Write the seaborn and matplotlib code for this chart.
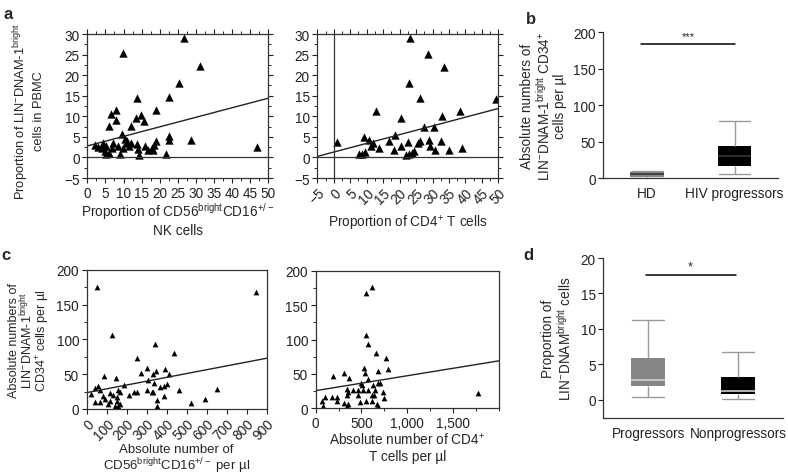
import pandas as pd
import matplotlib
matplotlib.use("Agg")
import matplotlib.pyplot as plt
from matplotlib.ticker import MultipleLocator
import seaborn as sns

sns.set_style("ticks")
plt.rcParams['font.family'] = ['Liberation Sans', 'DejaVu Sans']
plt.rcParams['mathtext.fontset'] = 'custom'
plt.rcParams['mathtext.rm'] = 'Liberation Sans'
plt.rcParams['mathtext.default'] = 'regular'
plt.rcParams['font.size'] = 9.8
plt.rcParams['axes.edgecolor'] = '#333333'
plt.rcParams['axes.linewidth'] = 0.9

# --- panel a, left: % LIN-DNAM-1bright vs % CD56bright NK cells
a1_x = [9.9, 26.6, 31.2, 25.3, 22.5, 13.6, 18.9, 7.9, 6.5, 14.9, 13.4, 15.7, 8.0, 12.1,
        5.9, 9.5, 22.5, 22.6, 28.6, 19.1, 46.8, 2.1, 4.4, 5.3, 4.9, 5.2, 7.2, 6.7, 8.6,
        9.0, 10.4, 10.9, 9.9, 11.5, 13.8, 13.9, 14.2, 15.9, 16.9, 17.8, 18.2, 18.4, 21.7,
        3.0, 6.0, 11.0, 12.0, 4.0]
a1_y = [25.3, 29.0, 22.2, 18.2, 14.6, 14.4, 11.5, 11.5, 10.5, 10.3, 9.6, 8.9, 9.2, 7.7,
        7.6, 5.7, 5.1, 4.2, 4.2, 4.1, 2.6, 3.1, 3.5, 2.8, 1.6, 0.8, 3.6, 2.4, 2.8,
        0.8, 4.5, 3.4, 2.4, 2.8, 3.2, 2.0, 0.6, 2.7, 1.9, 2.4, 1.7, 3.0, 0.8,
        2.5, 1.2, 4.0, 3.5, 2.2]
a1_fit_x = [0, 50]
a1_fit_y = [2.8, 14.4]

# --- panel a, right: % LIN-DNAM-1bright vs % CD4+ T cells
a2_x = [23.2, 28.5, 33.4, 22.9, 26.3, 49.3, 12.7, 38.3, 32.9, 20.4, 27.4, 30.4, 18.7,
        9.3, 1.1, 10.8, 16.8, 22.5, 25.7, 26.2, 28.9, 32.7, 11.3, 11.8, 13.6, 20.3,
        18.4, 29.3, 30.9, 34.9, 38.9, 7.7, 8.5, 9.4, 21.9, 22.9, 23.9, 24.5]
a2_y = [29.0, 25.1, 22.0, 18.1, 14.4, 14.3, 11.3, 11.4, 10.1, 9.5, 7.5, 7.5, 5.4,
        5.0, 3.8, 4.3, 4.1, 3.8, 3.6, 4.0, 4.3, 4.1, 2.8, 3.4, 2.3, 2.7,
        1.9, 2.8, 1.9, 1.9, 2.2, 0.8, 0.8, 1.4, 0.6, 0.8, 1.2, 1.6]
a2_fit_x = [-5, 50]
a2_fit_y = [0.25, 11.9]

# --- panel c, left: absolute numbers vs CD56bright per ul
c1_x = [53, 847, 125, 342, 437, 250, 300, 272, 347, 330, 393, 410, 87, 147, 308, 187,
        337, 385, 402, 368, 58, 42, 67, 158, 167, 238, 250, 303, 325, 333, 210, 20,
        117, 130, 83, 92, 150, 388, 460, 650, 592, 520, 350, 350, 42, 67, 108, 153,
        167, 142, 158, 117]
c1_y = [176, 168, 106, 93, 80, 73, 59, 52, 54, 50, 57, 50, 47, 44, 42, 35,
        37, 33, 36, 32, 33, 30, 27, 28, 24, 24, 24, 28, 24, 24, 20, 21,
        23, 20, 18, 15, 17, 19, 27, 29, 14, 8, 13, 5, 10, 10, 7, 11,
        7, 4, 5, 12]
c1_fit_x = [0, 900]
c1_fit_y = [23.5, 73]

# --- panel c, right: absolute numbers vs CD4+ T cells per ul
c2_x = [611, 546, 546, 568, 655, 768, 786, 684, 531, 539, 193, 313, 364, 575, 684,
        495, 502, 466, 520, 575, 630, 648, 702, 338, 357, 411, 732, 640, 338, 102,
        175, 229, 237, 66, 746, 466, 611, 619, 313, 357, 338, 484, 550, 666, 684,
        84, 1776]
c2_y = [177, 168, 106, 93, 80, 73, 57, 54, 59, 51, 47, 51, 44, 42, 37,
        37, 34, 27, 27, 27, 34, 27, 37, 28, 24, 27, 24, 20, 20, 16,
        16, 17, 10, 11, 15, 20, 19, 11, 7, 6, 4, 9, 10, 6, 4,
        4, 22]
c2_fit_x = [0, 2000]
c2_fit_y = [25.7, 69]

# --- panel b: box summaries (min, q1, median, q3, max)
b_groups = ['HD', 'HIV progressors']
b_hd = [0.5, 1.0, 5.5, 8.5, 9.5]
b_hiv = [5, 17, 30, 44, 78.5]
b_sig_y = 184

# --- panel d: box summaries (min, q1, median, q3, max)
d_groups = ['Progressors', 'Nonprogressors']
d_prog = [0.3, 1.9, 2.8, 5.9, 11.2]
d_nonprog = [0.1, 0.8, 1.2, 3.2, 6.7]
d_sig_y = 17.6

fig = plt.figure(figsize=(7.88, 4.77), dpi=100)
ax_a1 = fig.add_axes([0.1108, 0.6247, 0.2297, 0.3019])
ax_a2 = fig.add_axes([0.4027, 0.6247, 0.2297, 0.3019])
ax_b = fig.add_axes([0.7656, 0.6247, 0.2221, 0.3061])
ax_c1 = fig.add_axes([0.1100, 0.1405, 0.2284, 0.2914])
ax_c2 = fig.add_axes([0.4006, 0.1419, 0.2325, 0.2885])
ax_d = fig.add_axes([0.7656, 0.1216, 0.2284, 0.3354])


def scatter_panel(ax, x, y, fx, fy, size):
    sns.scatterplot(x=x, y=y, marker='^', color='black', s=size, linewidth=0, ax=ax)
    sns.lineplot(x=fx, y=fy, color='#222222', lw=1.0, ax=ax)
    ax.tick_params(which='major', length=3.5, width=0.8, direction='out', pad=2)
    ax.tick_params(which='minor', length=2, width=0.7, direction='out')


# a left
scatter_panel(ax_a1, a1_x, a1_y, a1_fit_x, a1_fit_y, 36)
ax_a1.axhline(0, color='#333333', lw=0.9)
ax_a1.set_xlim(0, 50)
ax_a1.set_ylim(-5, 30)
ax_a1.set_xticks(range(0, 51, 5))
ax_a1.set_yticks(range(-5, 31, 5))
ax_a1.xaxis.set_minor_locator(MultipleLocator(2.5))
ax_a1.yaxis.set_minor_locator(MultipleLocator(2.5))
ax_a1.tick_params(which='both', top=True, right=True)
ax_a1.set_xlabel('Proportion of CD56$^{bright}$CD16$^{+/-}$\nNK cells', linespacing=1.2)
ax_a1.set_ylabel('Proportion of LIN$^{-}$DNAM-1$^{bright}$\ncells in PBMC',
                 linespacing=1.15, fontsize=9.3)
ax_a1.yaxis.set_label_coords(-0.235, 0.47)
ax_a1.xaxis.set_label_coords(0.5, -0.15)

# a right
scatter_panel(ax_a2, a2_x, a2_y, a2_fit_x, a2_fit_y, 36)
ax_a2.axhline(0, color='#333333', lw=0.9)
ax_a2.axvline(0, color='#333333', lw=0.9)
ax_a2.set_xlim(-5, 50)
ax_a2.set_ylim(-5, 30)
ax_a2.set_xticks(range(-5, 51, 5))
ax_a2.set_yticks(range(-5, 31, 5))
ax_a2.xaxis.set_minor_locator(MultipleLocator(2.5))
ax_a2.yaxis.set_minor_locator(MultipleLocator(2.5))
ax_a2.tick_params(which='both', top=True, right=True)
plt.setp(ax_a2.get_xticklabels(), rotation=45, ha='right', rotation_mode='anchor')
ax_a2.set_xlabel('Proportion of CD4$^{+}$ T cells')
ax_a2.xaxis.set_label_coords(0.5, -0.24)

# c left
scatter_panel(ax_c1, c1_x, c1_y, c1_fit_x, c1_fit_y, 17)
ax_c1.set_xlim(0, 900)
ax_c1.set_ylim(0, 200)
ax_c1.set_xticks(range(0, 901, 100))
ax_c1.set_yticks(range(0, 201, 50))
ax_c1.yaxis.set_minor_locator(MultipleLocator(25))
plt.setp(ax_c1.get_xticklabels(), rotation=45, ha='right', rotation_mode='anchor')
ax_c1.set_xlabel('Absolute number of\nCD56$^{bright}$CD16$^{+/-}$ per µl',
                 linespacing=1.0, fontsize=9.5)
ax_c1.set_ylabel('Absolute numbers of\nLIN$^{-}$DNAM-1$^{bright}$\nCD34$^{+}$ cells per µl',
                 linespacing=0.92, fontsize=9)
ax_c1.yaxis.set_label_coords(-0.19, 0.5)
ax_c1.xaxis.set_label_coords(0.5, -0.245)

# c right
scatter_panel(ax_c2, c2_x, c2_y, c2_fit_x, c2_fit_y, 17)
ax_c2.set_xlim(0, 2000)
ax_c2.set_ylim(0, 200)
ax_c2.set_xticks([0, 500, 1000, 1500])
ax_c2.set_xticklabels(['0', '500', '1,000', '1,500'])
ax_c2.set_yticks(range(0, 201, 50))
ax_c2.xaxis.set_minor_locator(MultipleLocator(250))
ax_c2.yaxis.set_minor_locator(MultipleLocator(25))
ax_c2.set_xlabel('Absolute number of CD4$^{+}$\nT cells per µl', linespacing=1.15)
ax_c2.xaxis.set_label_coords(0.5, -0.165)


def box_panel(ax, groups, first, second, colors, med_color):
    df = pd.DataFrame({'group': [groups[0]] * len(first) + [groups[1]] * len(second),
                       'value': first + second})
    sns.boxplot(data=df, x='group', y='value', hue='group', palette=colors,
                saturation=1, whis=(0, 100), width=0.38, linecolor='#9a9a9a',
                linewidth=1.0, fliersize=0, legend=False, ax=ax,
                boxprops={'edgecolor': 'none'},
                medianprops={'color': med_color, 'linewidth': 1.2},
                capwidths=0.36)
    sns.despine(ax=ax)
    ax.set_xlim(-0.5, 1.5)
    ax.set_xlabel('')
    ax.tick_params(axis='x', length=0, pad=6)
    ax.tick_params(axis='y', length=3.5, width=0.8, pad=2)


# b
box_panel(ax_b, b_groups, b_hd, b_hiv, ['#858585', '#000000'], '#333333')
ax_b.set_ylim(0, 200)
ax_b.set_yticks(range(0, 201, 50))
ax_b.spines['left'].set_bounds(0, 200)
ax_b.plot([-0.07, 1.0], [b_sig_y, b_sig_y], color='black', lw=1.1)
ax_b.text(0.47, b_sig_y + 3, '***', ha='center', va='bottom', fontsize=8)
ax_b.set_ylabel('Absolute numbers of\nLIN$^{-}$DNAM-1$^{bright}$ CD34$^{+}$\ncells per µl',
                linespacing=1.05)
ax_b.yaxis.set_label_coords(-0.205, 0.5)

# d
box_panel(ax_d, d_groups, d_prog, d_nonprog, ['#858585', '#000000'], '#d0d0d0')
ax_d.set_ylim(-2.6, 20)
ax_d.set_yticks(range(0, 21, 5))
ax_d.plot([-0.03, 0.97], [d_sig_y, d_sig_y], color='black', lw=1.1)
ax_d.text(0.47, d_sig_y + 0.3, '*', ha='center', va='bottom', fontsize=9)
ax_d.set_ylabel('Proportion of\nLIN$^{-}$DNAM$^{bright}$ cells', linespacing=1.05)
ax_d.yaxis.set_label_coords(-0.165, 0.5)

for ax in [ax_a1, ax_a2, ax_b, ax_c1, ax_c2, ax_d]:
    ax.tick_params(labelsize=9.8, colors='#222222')

# panel letters
for lx, ly, letter in [(0.005, 0.985, 'a'), (0.668, 0.975, 'b'),
                       (0.002, 0.48, 'c'), (0.664, 0.48, 'd')]:
    fig.text(lx, ly, letter, fontsize=12, fontweight='bold', va='top')

fig.savefig('out.png', dpi=100)
